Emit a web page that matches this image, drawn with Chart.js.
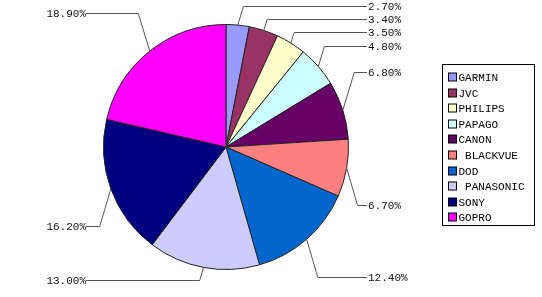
<!DOCTYPE html>
<html>
<head>
<meta charset="utf-8">
<script src="https://cdn.jsdelivr.net/npm/chart.js@4.4.0/dist/chart.umd.min.js"></script>
<style>
html,body{margin:0;padding:0;background:#fff;}
canvas{display:block;}
</style>
</head>
<body>
<canvas id="c" width="542" height="297"></canvas>
<script>
// ---- data ----
const categories = ['GARMIN', 'JVC', 'PHILIPS', 'PAPAGO', 'CANON', ' BLACKVUE', 'DOD', ' PANASONIC', 'SONY', 'GOPRO'];
const shares = [2.7, 3.4, 3.5, 4.8, 6.8, 6.7, 12.4, 13.0, 16.2, 18.9];
const colors = ['#9999FF', '#993366', '#FFFFCC', '#CCFFFF', '#660066', '#FF8080', '#0066CC', '#CCCCFF', '#000080', '#FF00FF'];

// ---- layout (label rows for data labels, legend placement) ----
const labelRowY = [6, 19, 32, 46, 72, 205, 277, 280, 226, 13];
const LABEL_FONT = '11px "Liberation Mono", monospace';
const rightTextX = 368, leftTextX = 86;
const legendBox = {x: 442.5, y: 64.5, w: 92, h: 161, firstRow: 77, rowGap: 15.6};

const labelPlugin = {
  id: 'leaderLabels',
  afterDatasetsDraw(chart) {
    const ctx = chart.ctx;
    const meta = chart.getDatasetMeta(0);
    ctx.save();
    ctx.font = LABEL_FONT;
    ctx.textBaseline = 'middle';
    meta.data.forEach((arc, i) => {
      const p = arc.getProps(['x', 'y', 'startAngle', 'endAngle', 'outerRadius'], true);
      const mid = (p.startAngle + p.endAngle) / 2;
      const ax = p.x + Math.cos(mid) * p.outerRadius;
      const ay = p.y + Math.sin(mid) * p.outerRadius;
      const right = ax > p.x;
      const ly = labelRowY[i];
      const ex = ax + (right ? 1 : -1) * Math.abs(ly - ay) * 0.3;
      const tx = right ? rightTextX : leftTextX;
      ctx.strokeStyle = '#555';
      ctx.lineWidth = 1;
      ctx.beginPath();
      ctx.moveTo(ax, ay);
      ctx.lineTo(ex, ly + 0.5);
      ctx.lineTo(right ? tx - 1 : tx, ly + 0.5);
      ctx.stroke();
      ctx.fillStyle = '#111';
      ctx.textAlign = right ? 'left' : 'right';
      ctx.fillText(shares[i].toFixed(2) + '%', tx, ly + 1);
    });
    ctx.restore();
  }
};

const legendPlugin = {
  id: 'boxLegend',
  afterDraw(chart) {
    const ctx = chart.ctx;
    const b = legendBox;
    ctx.save();
    ctx.strokeStyle = '#000';
    ctx.lineWidth = 1;
    ctx.strokeRect(b.x, b.y, b.w, b.h);
    ctx.font = LABEL_FONT;
    ctx.textBaseline = 'middle';
    ctx.textAlign = 'left';
    chart.data.labels.forEach((lab, i) => {
      const cy = b.firstRow + i * b.rowGap;
      ctx.fillStyle = chart.data.datasets[0].backgroundColor[i];
      ctx.fillRect(b.x + 6, Math.round(cy) - 4, 8, 8);
      ctx.strokeStyle = '#000';
      ctx.strokeRect(b.x + 6 + 0.0, Math.round(cy) - 4 + 0.0, 8, 8);
      ctx.fillStyle = '#000';
      ctx.fillText(lab, b.x + 16, cy + 1);
    });
    ctx.restore();
  }
};

new Chart(document.getElementById('c'), {
  type: 'pie',
  data: {
    labels: categories,
    datasets: [{
      data: shares,
      backgroundColor: colors,
      borderColor: '#222',
      borderWidth: 1
    }]
  },
  options: {
    responsive: false,
    animation: false,
    layout: {padding: {left: 103, right: 193, top: 24, bottom: 27}},
    plugins: {
      legend: {display: false},
      tooltip: {enabled: false}
    }
  },
  plugins: [labelPlugin, legendPlugin]
});
</script>
</body>
</html>
